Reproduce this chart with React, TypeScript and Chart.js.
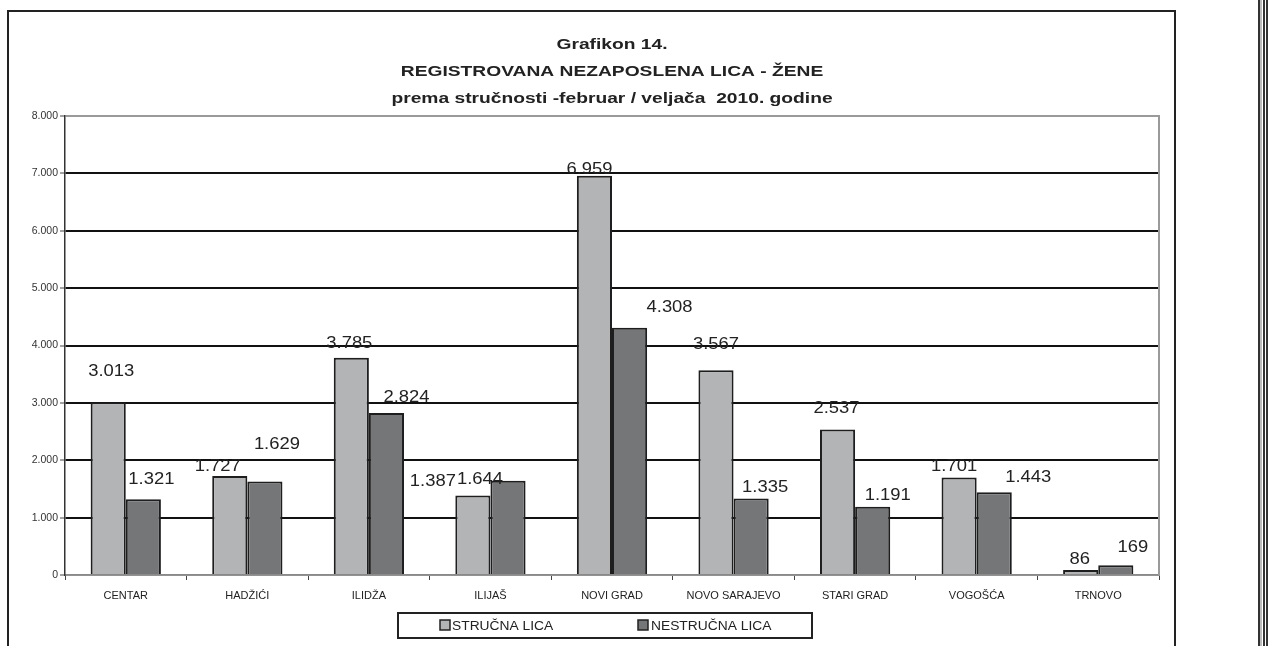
import React, { useEffect, useRef } from "react";
import { Chart, registerables } from "chart.js";

Chart.register(...registerables);

const categories = [
  "CENTAR",
  "HADŽIĆI",
  "ILIDŽA",
  "ILIJAŠ",
  "NOVI GRAD",
  "NOVO SARAJEVO",
  "STARI GRAD",
  "VOGOŠĆA",
  "TRNOVO",
];
const strucnaLica = [3013, 1727, 3785, 1387, 6959, 3567, 2537, 1701, 86];
const nestrucnaLica = [1321, 1629, 2824, 1644, 4308, 1335, 1191, 1443, 169];
const seriesNames = ["STRUČNA LICA", "NESTRUČNA LICA"];
const titleLines = [
  "Grafikon 14.",
  "REGISTROVANA NEZAPOSLENA LICA - ŽENE",
  "prema stručnosti -februar / veljača  2010. godine",
];
const yMin = 0;
const yMax = 8000;
const yStep = 1000;

// label placement (px, relative to each bar's top centre), mimicking the hand-moved labels
const labelShift = [
  [[3, 31], [-12, 9], [-2, 14], [-40, 14], [-5, 6], [0, 26], [-1, 21], [-5, 11], [-1, 10]],
  [[8, 20], [12, 37], [20, 15], [-28, 1], [40, 20], [14, 11], [15, 11], [34, 15], [17, 18]],
];

const FONT = "'Liberation Sans', Arial, sans-serif";
const STRETCH = 1.15;
const COLORS = ["#b3b4b6", "#757678"];

const fmt = (v: number) =>
  Math.round(v).toString().replace(/\B(?=(\d{3})+(?!\d))/g, ".");

function stretchedText(
  ctx: CanvasRenderingContext2D,
  text: string,
  x: number,
  y: number,
  align: CanvasTextAlign,
  sx: number
) {
  ctx.save();
  ctx.translate(x, y);
  ctx.scale(sx, 1);
  ctx.textAlign = align;
  ctx.fillText(text, 0, 0);
  ctx.restore();
}

const decorPlugin = {
  id: "decor",
  beforeDatasetsDraw(chart: any) {
    const { ctx, chartArea } = chart;
    ctx.save();
    ctx.strokeStyle = "#9a9a9a";
    ctx.lineWidth = 2;
    ctx.beginPath();
    ctx.moveTo(chartArea.right, chartArea.top - 1);
    ctx.lineTo(chartArea.right, chartArea.bottom);
    ctx.stroke();
    ctx.restore();
  },
  afterDatasetsDraw(chart: any) {
    const { ctx } = chart;
    ctx.save();
    ctx.fillStyle = "#222";
    ctx.font = `16px ${FONT}`;
    ctx.textBaseline = "middle";
    chart.data.datasets.forEach((ds: any, di: number) => {
      const meta = chart.getDatasetMeta(di);
      meta.data.forEach((el: any, i: number) => {
        const [dx, gap] = labelShift[di][i];
        stretchedText(ctx, fmt(ds.data[i]), el.x + dx, el.y - gap, "center", STRETCH);
      });
    });
    ctx.restore();
  },
  afterDraw(chart: any) {
    const { ctx, chartArea } = chart;
    ctx.save();
    // titles
    const cx = (chartArea.left + chartArea.right) / 2;
    ctx.fillStyle = "#222";
    ctx.font = `bold 15.5px ${FONT}`;
    ctx.textBaseline = "middle";
    titleLines.forEach((t, i) => {
      stretchedText(ctx, t, cx, 45 + i * 27, "center", 1.24);
    });
    // legend
    const lx = 398, ly = 613, lw = 414, lh = 25;
    ctx.fillStyle = "#fff";
    ctx.fillRect(lx, ly, lw, lh);
    ctx.strokeStyle = "#222";
    ctx.lineWidth = 2;
    ctx.strokeRect(lx, ly, lw, lh);
    const items = [
      { sq: 440, tx: 452 },
      { sq: 638, tx: 651 },
    ];
    ctx.font = `12px ${FONT}`;
    ctx.textBaseline = "middle";
    chart.data.datasets.forEach((ds: any, di: number) => {
      const it = items[di];
      ctx.fillStyle = ds.backgroundColor;
      ctx.fillRect(it.sq, ly + 7, 10, 10);
      ctx.strokeStyle = "#222";
      ctx.lineWidth = 1.5;
      ctx.strokeRect(it.sq, ly + 7, 10, 10);
      ctx.fillStyle = "#222";
      stretchedText(ctx, ds.label, it.tx, ly + lh / 2 + 1, "left", STRETCH);
    });
    ctx.restore();
  },
};

export default function App() {
  const ref = useRef<HTMLCanvasElement | null>(null);

  useEffect(() => {
    if (!ref.current) return;
    const chart = new Chart(ref.current, {
      type: "bar",
      data: {
        labels: categories,
        datasets: [
          {
            label: seriesNames[0],
            data: strucnaLica,
            backgroundColor: COLORS[0],
            borderColor: "#1e1e1e",
            borderWidth: 2,
            borderSkipped: "bottom",
          },
          {
            label: seriesNames[1],
            data: nestrucnaLica,
            backgroundColor: COLORS[1],
            borderColor: "#1e1e1e",
            borderWidth: 2,
            borderSkipped: "bottom",
          },
        ],
      },
      options: {
        animation: false,
        responsive: false,
        maintainAspectRatio: false,
        devicePixelRatio: 1,
        layout: { padding: { left: 15, right: 124, top: 116, bottom: 31 } },
        datasets: {
          bar: { categoryPercentage: 0.578, barPercentage: 1 },
        },
        plugins: {
          legend: { display: false },
          title: { display: false },
          tooltip: { enabled: false },
        },
        scales: {
          x: {
            afterFit: (s: any) => {
              s.height = 40;
            },
            grid: {
              offset: true,
              drawOnChartArea: false,
              drawTicks: true,
              tickLength: 5,
              color: "#444",
              lineWidth: 1,
            },
            border: { display: true, color: "#8a8a8a", width: 1.5 },
            ticks: {
              color: "#222",
              font: { family: FONT, size: 11 },
              padding: 9,
              maxRotation: 0,
              autoSkip: false,
            },
          },
          y: {
            min: yMin,
            max: yMax,
            afterFit: (s: any) => {
              s.width = 50;
            },
            grid: {
              color: (c: any) =>
                c.tick && (c.tick.value === yMax || c.tick.value === yMin) ? "#9a9a9a" : "#111",
              lineWidth: 2,
              tickColor: "#444",
              tickWidth: 1,
              tickLength: 5,
              drawTicks: true,
            },
            border: { display: true, color: "#333", width: 1.5 },
            ticks: {
              stepSize: yStep,
              color: "#333",
              font: { family: FONT, size: 10.5 },
              padding: 2,
              callback: (v: any) => fmt(Number(v)),
            },
          },
        },
      },
      plugins: [decorPlugin],
    });
    return () => chart.destroy();
  }, []);

  const vline = (left: number, width: number, color: string) => (
    <div
      style={{
        position: "absolute",
        left,
        top: 0,
        width,
        height: 646,
        background: color,
      }}
    />
  );

  return (
    <div
      style={{
        position: "fixed",
        left: 0,
        top: 0,
        width: 1283,
        height: 646,
        overflow: "hidden",
        background: "#fff",
      }}
    >
      <div
        style={{
          position: "absolute",
          left: 7,
          top: 10,
          width: 1165,
          height: 700,
          border: "2px solid #222",
        }}
      />
      {vline(1258, 2, "#333")}
      {vline(1260, 2, "#bbb")}
      {vline(1263, 2, "#333")}
      {vline(1266, 2, "#333")}
      <canvas
        ref={ref}
        width={1283}
        height={646}
        style={{ position: "absolute", left: 0, top: 0, width: 1283, height: 646 }}
      />
    </div>
  );
}
